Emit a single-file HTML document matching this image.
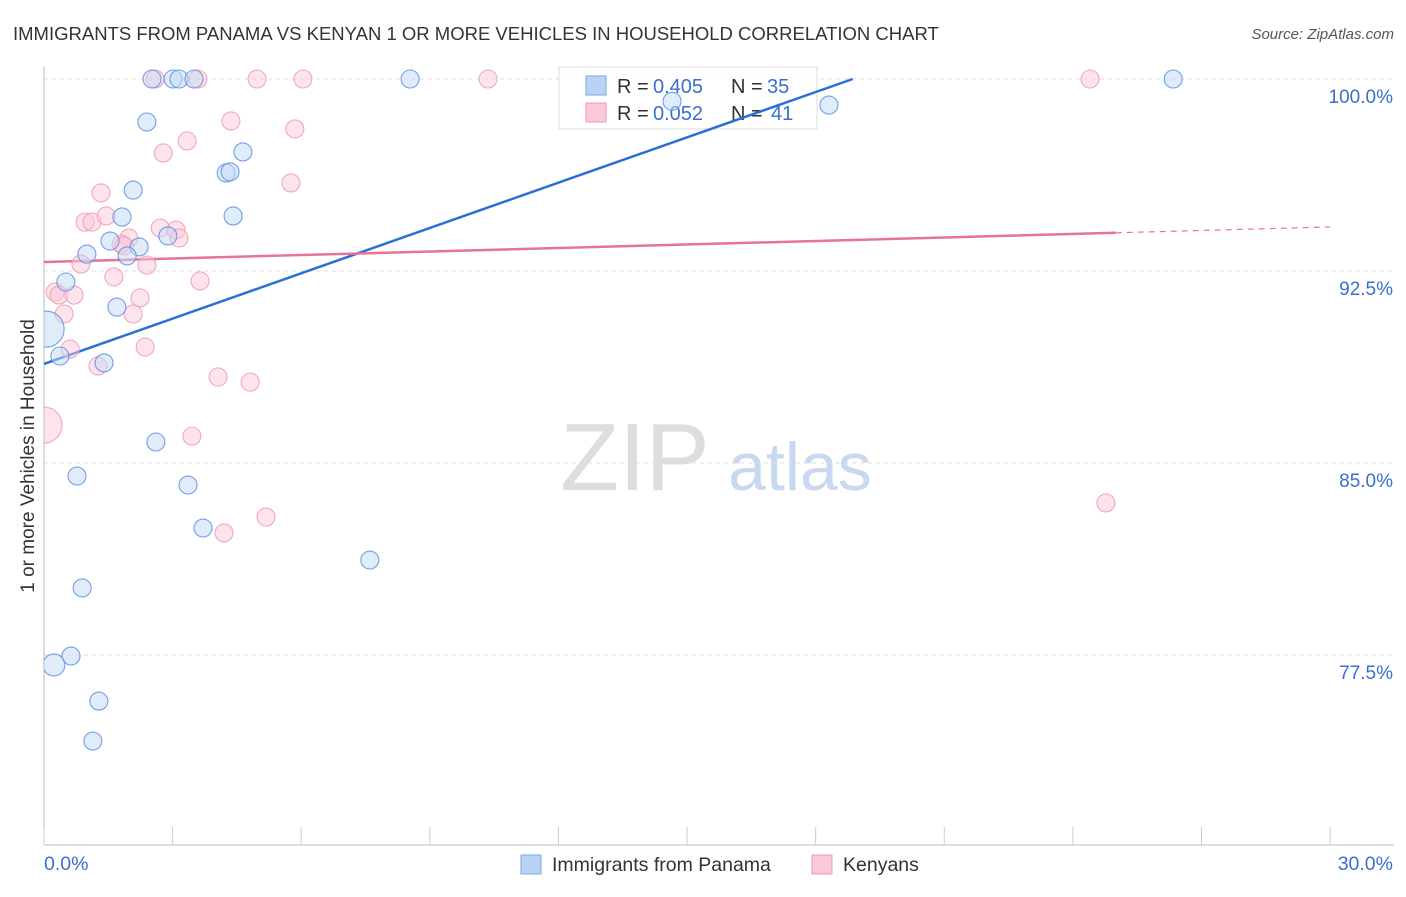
<!DOCTYPE html>
<html><head><meta charset="utf-8"><style>
body{margin:0;background:#fff;font-family:"Liberation Sans",sans-serif;}
svg text{font-family:"Liberation Sans",sans-serif;}
</style></head><body>
<svg id="chart" width="1406" height="892" xmlns="http://www.w3.org/2000/svg">
<defs><clipPath id="plotclip"><rect x="44" y="60" width="1350" height="785"/></clipPath></defs>
<text x="13" y="40" font-size="18.5" fill="#333">IMMIGRANTS FROM PANAMA VS KENYAN 1 OR MORE VEHICLES IN HOUSEHOLD CORRELATION CHART</text>
<text x="1394" y="39" font-size="15" fill="#555" text-anchor="end" font-style="italic">Source: ZipAtlas.com</text>
<text transform="translate(34,456) rotate(-90)" font-size="19" fill="#333" text-anchor="middle">1 or more Vehicles in Household</text>
<g>
<text x="635" y="490" font-size="96" fill="#ddd" text-anchor="middle" font-family="Liberation Serif,serif">ZIP</text>
<text x="800" y="490" font-size="68" fill="#c8d8ee" text-anchor="middle">atlas</text>
</g>
<g id="grid"></g><g id="axes"></g>
<g>
<rect x="559" y="67" width="258" height="62" fill="#fff" fill-opacity="0.85" stroke="#ddd"/>
<rect x="586" y="76" width="20" height="19" fill="#b8d3f5" stroke="#7aa8e6"/>
<rect x="586" y="103" width="20" height="19" fill="#fbc8d8" stroke="#ee9ab5"/>
<text x="617" y="93" font-size="20" fill="#333">R = </text><text x="653" y="93" font-size="20" fill="#3a6fd0">0.405</text>
<text x="731" y="93" font-size="20" fill="#333">N = </text><text x="767" y="93" font-size="20" fill="#3a6fd0">35</text>
<text x="617" y="120" font-size="20" fill="#333">R = </text><text x="653" y="120" font-size="20" fill="#3a6fd0">0.052</text>
<text x="731" y="120" font-size="20" fill="#333">N = </text><text x="771" y="120" font-size="20" fill="#3a6fd0">41</text>
</g>
<g id="trends" clip-path="url(#plotclip)"></g><g id="points" clip-path="url(#plotclip)"></g>
<g>
<rect x="521" y="855" width="20" height="19" fill="#b8d3f5" stroke="#7aa8e6"/>
<text x="552" y="871" font-size="19.5" fill="#333">Immigrants from Panama</text>
<rect x="812" y="855" width="20" height="19" fill="#fbc8d8" stroke="#ee9ab5"/>
<text x="843" y="871" font-size="19.5" fill="#333">Kenyans</text>
</g>
</svg>
<script>
const blueX=[2.52,3.01,3.15,3.50,8.54,26.34,18.31,2.40,4.64,4.25,4.34,2.08,1.82,4.41,1.54,2.22,2.89,1.00,1.94,0.51,1.70,0.05,0.37,1.40,2.61,0.77,3.36,3.71,7.60,0.89,0.63,0.23,1.28,1.14,14.65];
const blueY=[100,100,100,100,100,100,98.98,98.32,97.15,96.33,96.37,95.66,94.61,94.65,93.67,93.44,93.87,93.16,93.09,92.07,91.09,90.23,89.18,88.91,85.82,84.49,84.14,82.46,81.21,80.12,77.46,77.11,75.70,74.14,99.13];
const blueR=[9,9,9,9,9,9,9,9,9,9,9,9,9,9,9,9,9,9,9,9,9,18,9,9,9,9,9,9,9,9,9,11,9,9,9];
const pinkX=[2.59,3.59,4.97,6.04,10.36,24.40,4.36,5.85,3.34,2.78,5.76,1.33,0.96,1.12,1.45,2.71,3.08,3.15,1.98,1.80,2.40,0.86,1.63,3.64,0.26,0.35,0.70,2.24,0.47,2.08,2.36,0.61,1.26,4.06,4.81,3.45,4.20,5.18,24.77,0,1.87];
const pinkY=[100,100,100,100,100,100,98.36,98.05,97.58,97.11,95.94,95.55,94.41,94.41,94.65,94.18,94.10,93.79,93.79,93.55,92.73,92.77,92.27,92.11,91.68,91.56,91.56,91.45,90.82,90.82,89.53,89.45,88.79,88.36,88.16,86.05,82.27,82.89,83.44,86.48,93.48];
const pinkR=[9,9,9,9,9,9,9,9,9,9,9,9,9,9,9,9,9,9,9,9,9,9,9,9,9,9,9,9,9,9,9,9,9,9,9,9,9,9,9,18,9];
const blueTrend=[88.87,0.59];
const pinkTrend=[92.85,0.0457];
const yTicks=[100,92.5,85,77.5];
const yTickLabels=["100.0%","92.5%","85.0%","77.5%"];
const xTickVals=[0,3,6,9,12,15,18,21,24,27,30];
const xLabels=["0.0%","30.0%"];
const sx=v=>44+v*42.87, sy=v=>79+(100-v)*25.6;
const NS="http://www.w3.org/2000/svg";
function mk(p,t,a){const e=document.createElementNS(NS,t);for(const k in a)e.setAttribute(k,a[k]);p.appendChild(e);return e;}
const G=document.getElementById('grid'),A=document.getElementById('axes'),T=document.getElementById('trends'),P=document.getElementById('points');
yTicks.forEach((v,i)=>{
 const l=mk(G,'line',{x1:44,x2:1394,y1:sy(v),y2:sy(v),stroke:'#ddd','stroke-dasharray':'4,4'});
 
 
 const t=mk(A,'text',{x:1393,y:sy(v)+24,'font-size':19,fill:'#3a6fd0','text-anchor':'end'});t.textContent=yTickLabels[i];
 
 
});
const ya=mk(A,'line',{x1:44,x2:44,y1:67,y2:845,stroke:'#bbb'});


const xa=mk(A,'line',{x1:44,x2:1394,y1:845,y2:845,stroke:'#bbb'});


xTickVals.forEach(v=>{const t=mk(A,'line',{x1:sx(v),x2:sx(v),y1:827,y2:845,stroke:'#ccc'});
 
 });
const xl0=mk(A,'text',{x:44,y:870,'font-size':19.5,fill:'#3a6fd0'});xl0.textContent=xLabels[0];


const xl1=mk(A,'text',{x:1393,y:870,'font-size':19.5,fill:'#3a6fd0','text-anchor':'end'});xl1.textContent=xLabels[1];


function dots(xs,ys,rs,fill,stroke,name){xs.forEach((x,i)=>{const c=mk(P,'circle',{cx:sx(x),cy:sy(ys[i]),r:rs[i],fill:fill,'fill-opacity':0.5,stroke:stroke,'stroke-width':1.1,'stroke-opacity':0.85});
 
 });}
dots(pinkX,pinkY,pinkR,'#fbc8d8','#ee9ab5','kenyans-point');
dots(blueX,blueY,blueR,'#c4daf6','#5b8fe0','panama-point');
const bxEnd=(100-blueTrend[0])/blueTrend[1];
const bl=mk(T,'line',{x1:sx(0),y1:sy(blueTrend[0]),x2:sx(bxEnd),y2:sy(100),stroke:'#2b6fd6','stroke-width':2.5});


const pl=mk(T,'line',{x1:sx(0),y1:sy(pinkTrend[0]),x2:sx(25),y2:sy(pinkTrend[0]+25*pinkTrend[1]),stroke:'#e8739a','stroke-width':2.5});


const pd=mk(T,'line',{x1:sx(25),y1:sy(pinkTrend[0]+25*pinkTrend[1]),x2:sx(30),y2:sy(pinkTrend[0]+30*pinkTrend[1]),stroke:'#e8739a','stroke-width':1.2,'stroke-dasharray':'6,5'});


</script>
</body></html>
